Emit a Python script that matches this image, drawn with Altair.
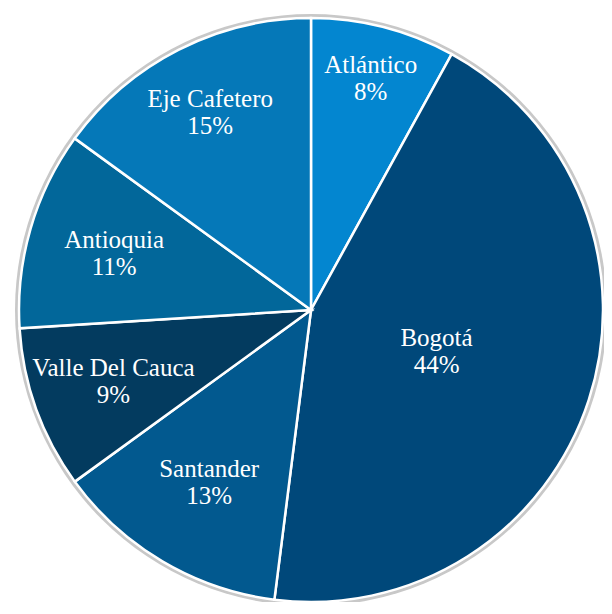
import altair as alt
import pandas as pd

regions = ["Atlántico", "Bogotá", "Santander", "Valle Del Cauca", "Antioquia", "Eje Cafetero"]
shares = [8, 44, 13, 9, 11, 15]
colors = ["#0386d0", "#00487a", "#02598f", "#033b5f", "#02679a", "#0578b8"]

df = pd.DataFrame({"region": regions, "share": shares, "idx": list(range(len(regions)))})

CX, CY = 303, 302
R = 292

# label distance from the centre for each slice (layout only)
label_r = {"Atlántico": 240, "Bogotá": 132, "Santander": 200,
           "Valle Del Cauca": 210, "Antioquia": 205, "Eje Cafetero": 222}
expr = "0"
for k, v in label_r.items():
    expr = f"datum.region === '{k}' ? {v} : ({expr})"

ring = alt.Chart(pd.DataFrame({"a": [0]})).mark_arc(
    radius=R + 4, theta=0, theta2=6.2832, color="#c8c8c8"
).encode(x=alt.value(CX), y=alt.value(CY))

pie = alt.Chart(df).mark_arc(radius=R, stroke="white", strokeWidth=2.5).encode(
    theta=alt.Theta("share:Q", stack=True),
    order=alt.Order("idx:Q"),
    color=alt.Color("region:N", scale=alt.Scale(domain=regions, range=colors), legend=None),
    x=alt.value(CX),
    y=alt.value(CY),
)

labels = alt.Chart(df).transform_joinaggregate(
    total="sum(share)"
).transform_window(
    cum="sum(share)", sort=[alt.SortField("idx")], frame=[None, 0]
).transform_calculate(
    label="datum.region + '\\n' + datum.share + '%'",
    lr=expr,
    ang="2 * PI * (datum.cum - datum.share / 2) / datum.total",
).transform_calculate(
    px=f"{CX} + datum.lr * sin(datum.ang)",
    py=f"{CY} - datum.lr * cos(datum.ang)",
).mark_text(
    font="Liberation Serif", fontSize=25, color="white", lineBreak="\n",
    lineHeight=27, align="center", baseline="middle", dy=-13
).encode(
    x=alt.X("px:Q", scale=None),
    y=alt.Y("py:Q", scale=None),
    text="label:N",
)

chart = alt.layer(ring, pie, labels).properties(
    width=596, height=594, padding=0, autosize=alt.AutoSizeParams(type="none")
).configure(font="Liberation Serif").configure_view(stroke=None)

chart.save("out.html", embed_options={"renderer": "svg", "actions": False})
